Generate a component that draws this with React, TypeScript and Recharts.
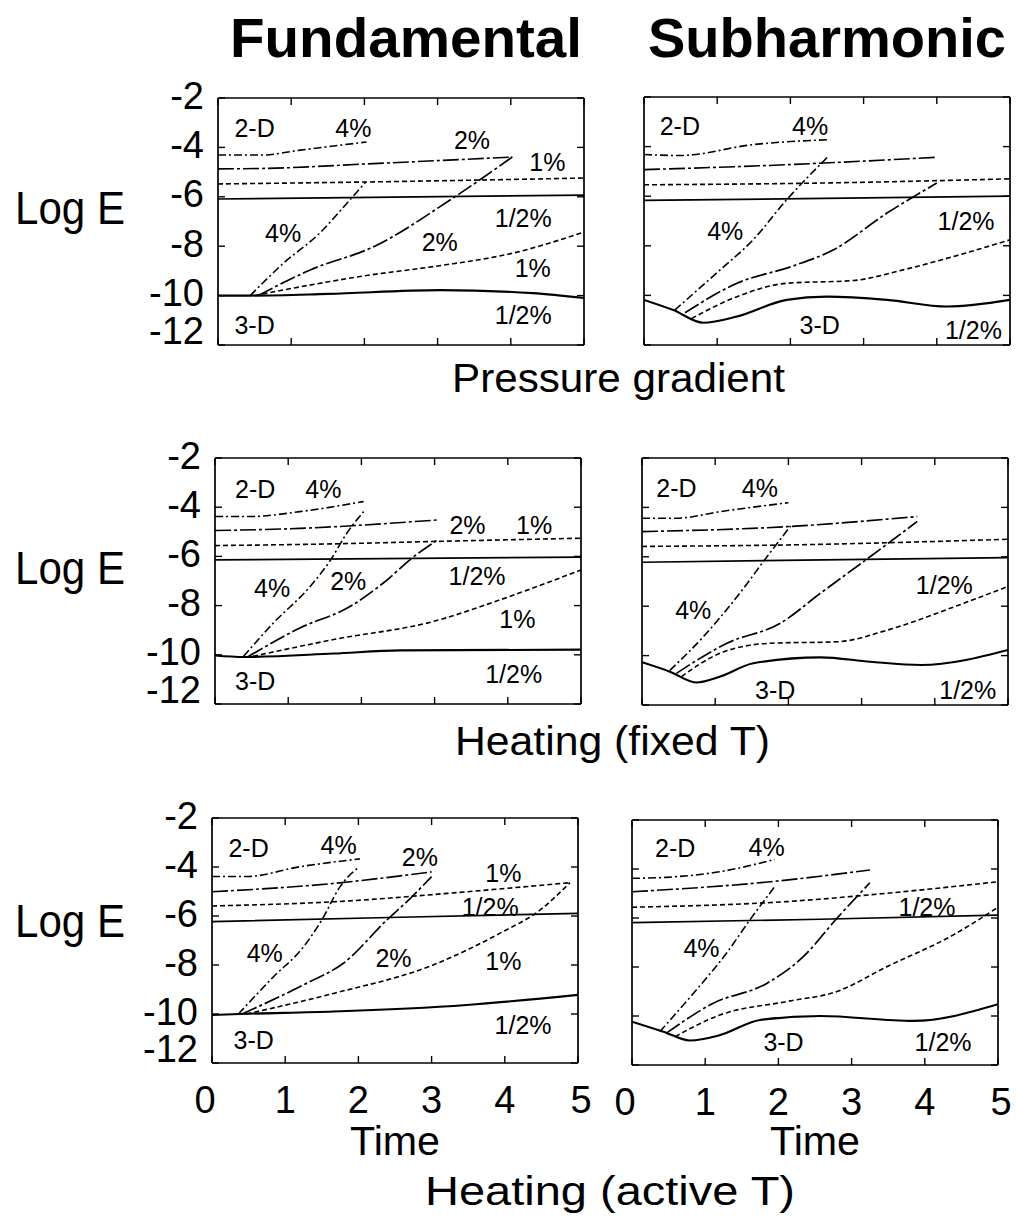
import React from 'react';
import { LineChart, Line, XAxis, YAxis, ReferenceDot } from 'recharts';

type Pair = [number, number];

// ---- Pressure gradient, fundamental ----
const pgF2d4: Pair[] = [[0, -4.31], [0.6, -4.31], [1.1, -4.12], [2.03, -3.78]];
const pgF2d2: Pair[] = [[0, -4.87], [0.66, -4.85], [2.03, -4.67], [4.02, -4.39]];
const pgF2d1: Pair[] = [[0, -5.48], [2.03, -5.4], [5, -5.24]];
const pgF2dH: Pair[] = [[0, -6.09], [5, -5.93]];
const pgF3dH: Pair[] = [[0, -10], [0.43, -10], [1.5, -9.93], [3.03, -9.78], [4.3, -9.9], [5, -10.1]];
const pgF3d1: Pair[] = [[0.5, -10], [1.3, -9.55], [2.0, -9.2], [3.0, -8.8], [4.0, -8.3], [5, -7.43]];
const pgF3d2: Pair[] = [[0.55, -10], [1.26, -8.96], [2.12, -8.03], [3.17, -6.13], [4.02, -4.39]];
const pgF3d4: Pair[] = [[0.44, -10], [0.89, -8.7], [1.39, -7.47], [1.8, -6.13], [2.02, -5.4]];

// ---- Pressure gradient, subharmonic ----
const pgS2d4: Pair[] = [[0, -4.32], [0.49, -4.36], [1.49, -3.92], [2.52, -3.72]];
const pgS2d2: Pair[] = [[0, -4.93], [1.95, -4.73], [4.0, -4.43]];
const pgS2d1: Pair[] = [[0, -5.54], [2.41, -5.47], [5, -5.3]];
const pgS2dH: Pair[] = [[0, -6.17], [5, -6.0]];
const pgS3dH: Pair[] = [[0, -10.18], [0.4, -10.59], [0.81, -11.1], [1.27, -10.85], [1.95, -10.18], [2.5, -10.05], [3.32, -10.18], [4.14, -10.45], [5, -10.18]];
const pgS3d1: Pair[] = [[0.65, -10.93], [1.27, -10.05], [1.95, -9.51], [2.86, -9.4], [3.54, -8.97], [4.23, -8.43], [5, -7.76]];
const pgS3d2: Pair[] = [[0.56, -10.7], [1.27, -9.51], [2.04, -8.81], [2.59, -8.16], [3.32, -6.68], [4.0, -5.47]];
const pgS3d4: Pair[] = [[0.42, -10.59], [1.04, -8.97], [1.49, -7.76], [1.95, -6.14], [2.52, -4.39]];

// ---- Heating (fixed T), fundamental ----
const hfF2d4: Pair[] = [[0, -4.38], [0.48, -4.38], [1.16, -4.18], [2.03, -3.77]];
const hfF2d2: Pair[] = [[0, -4.95], [1.16, -4.86], [3.03, -4.52]];
const hfF2d1: Pair[] = [[0, -5.56], [1.62, -5.49], [3.03, -5.39], [5, -5.26]];
const hfF2dH: Pair[] = [[0, -6.14], [5, -6.03]];
const hfF3dH: Pair[] = [[0, -10.03], [0.39, -10.09], [1.62, -9.95], [2.53, -9.82], [5, -9.79]];
const hfF3d1: Pair[] = [[0.52, -10.06], [1.62, -9.38], [2.99, -8.64], [3.9, -7.76], [5, -6.55]];
const hfF3d2: Pair[] = [[0.46, -10.06], [1.16, -8.91], [1.85, -8.03], [2.3, -7.08], [2.72, -6.0], [3.03, -5.35]];
const hfF3d4: Pair[] = [[0.39, -10.06], [0.8, -8.7], [1.3, -7.22], [1.58, -6.14], [1.8, -5.06], [2.03, -4.18]];

// ---- Heating (fixed T), subharmonic ----
const hfS2d4: Pair[] = [[0, -4.44], [0.47, -4.44], [1.07, -4.17], [2.0, -3.81]];
const hfS2d2: Pair[] = [[0, -4.98], [1.98, -4.78], [3.76, -4.37]];
const hfS2d1: Pair[] = [[0, -5.58], [1.98, -5.52], [5, -5.29]];
const hfS2dH: Pair[] = [[0, -6.22], [5, -6.03]];
const hfS3dH: Pair[] = [[0, -10.27], [0.38, -10.65], [0.75, -11.09], [1.07, -10.85], [1.52, -10.31], [2.44, -10.07], [3.12, -10.25], [3.81, -10.38], [5, -9.77]];
const hfS3d1: Pair[] = [[0.54, -10.85], [1.07, -9.9], [1.75, -9.5], [2.67, -9.44], [3.35, -8.97], [4.26, -8.03], [5, -7.2]];
const hfS3d2: Pair[] = [[0.47, -10.72], [1.16, -9.5], [1.89, -8.69], [2.44, -7.47], [3.12, -5.99], [3.76, -4.57]];
const hfS3d4: Pair[] = [[0.38, -10.6], [0.84, -9.23], [1.3, -7.61], [1.71, -5.99], [2.03, -4.75]];

// ---- Heating (active T), fundamental ----
const haF2d4: Pair[] = [[0, -4.39], [0.47, -4.39], [1.2, -3.99], [2.02, -3.67]];
const haF2d2: Pair[] = [[0, -5.01], [1.66, -4.67], [3.0, -4.2]];
const haF2d1: Pair[] = [[0, -5.59], [1.66, -5.42], [3.48, -5.01], [4.89, -4.64]];
const haF2dH: Pair[] = [[0, -6.23], [2.57, -6.05], [5, -5.89]];
const haF3dH: Pair[] = [[0, -10.04], [0.38, -10.0], [1.66, -9.9], [3.48, -9.63], [5, -9.22]];
const haF3d1: Pair[] = [[0.47, -10.0], [1.66, -9.16], [3.02, -8.0], [3.93, -6.71], [4.48, -5.76], [4.89, -4.64]];
const haF3d2: Pair[] = [[0.41, -10.0], [1.29, -8.75], [1.79, -7.94], [2.39, -6.16], [2.71, -5.28], [3.0, -4.39]];
const haF3d4: Pair[] = [[0.36, -10.0], [0.84, -8.48], [1.25, -7.26], [1.5, -6.16], [1.75, -4.8], [2.01, -3.99]];

// ---- Heating (active T), subharmonic ----
const haS2d4: Pair[] = [[0, -4.38], [0.47, -4.34], [1.2, -4.11], [1.95, -3.61]];
const haS2d2: Pair[] = [[0, -4.93], [1.89, -4.52], [3.25, -4.04]];
const haS2d1: Pair[] = [[0, -5.56], [2.11, -5.33], [3.48, -4.99], [5, -4.52]];
const haS2dH: Pair[] = [[0, -6.19], [2.57, -6.05], [5, -5.88]];
const haS3dH: Pair[] = [[0, -10.23], [0.43, -10.64], [0.79, -11.0], [1.2, -10.78], [1.75, -10.16], [2.57, -10.0], [3.84, -10.2], [5, -9.52]];
const haS3d1: Pair[] = [[0.59, -10.84], [1.2, -9.96], [2.11, -9.41], [2.8, -9.0], [3.48, -7.99], [4.39, -6.69], [5, -5.56]];
const haS3d2: Pair[] = [[0.47, -10.7], [1.11, -9.48], [1.84, -8.67], [2.34, -7.58], [2.8, -6.01], [3.25, -4.56]];
const haS3d4: Pair[] = [[0.38, -10.64], [0.84, -9.07], [1.29, -7.44], [1.61, -6.08], [1.95, -4.72]];

// curve labels inside each panel: [t, logE, text]
type Tag = [number, number, string];
const pgFTags: Tag[] = [[0.5, -3.2, '2-D'], [1.85, -3.2, '4%'], [3.47, -3.7, '2%'], [4.5, -4.6, '1%'], [0.89, -7.47, '4%'], [3.03, -7.83, '2%'], [4.17, -6.86, '1/2%'], [4.3, -8.9, '1%'], [4.17, -10.8, '1/2%'], [0.5, -11.2, '3-D']];
const pgSTags: Tag[] = [[0.49, -3.18, '2-D'], [2.27, -3.18, '4%'], [1.11, -7.42, '4%'], [4.4, -6.99, '1/2%'], [2.4, -11.19, '3-D'], [4.5, -11.39, '1/2%']];
const hfFTags: Tag[] = [[0.55, -3.27, '2-D'], [1.48, -3.27, '4%'], [3.45, -4.72, '2%'], [4.36, -4.72, '1%'], [0.78, -7.29, '4%'], [1.82, -7.02, '2%'], [3.58, -6.82, '1/2%'], [4.13, -8.57, '1%'], [4.08, -10.8, '1/2%'], [0.55, -11.07, '3-D']];
const hfSTags: Tag[] = [[0.47, -3.23, '2-D'], [1.61, -3.23, '4%'], [0.7, -8.17, '4%'], [4.13, -7.15, '1/2%'], [1.82, -11.4, '3-D'], [4.45, -11.4, '1/2%']];
const haFTags: Tag[] = [[0.5, -3.24, '2-D'], [1.73, -3.1, '4%'], [2.84, -3.58, '2%'], [3.98, -4.26, '1%'], [3.8, -5.65, '1/2%'], [0.72, -7.52, '4%'], [2.48, -7.73, '2%'], [3.98, -7.86, '1%'], [4.25, -10.45, '1/2%'], [0.57, -11.06, '3-D']];
const haSTags: Tag[] = [[0.59, -3.16, '2-D'], [1.84, -3.09, '4%'], [0.95, -7.24, '4%'], [4.03, -5.56, '1/2%'], [2.07, -11.05, '3-D'], [4.25, -11.05, '1/2%']];

const timeTicks = [0, 1, 2, 3, 4, 5];
const logTicks = [-2, -4, -6, -8, -10, -12];

const FONT = '"Liberation Sans", Arial, Helvetica, sans-serif';

// dash style per amplitude: 4%, 2%, 1%, 1/2%
const DASH = { d4: '8 3 2 3', d2: '16 3 3 3', d1: '5 3', h: undefined };

const toPts = (arr: Pair[]) => arr.map(([t, v]) => ({ t, v }));

const buildSeries = (s2d4: Pair[], s2d2: Pair[], s2d1: Pair[], s2dH: Pair[], s3dH: Pair[], s3d1: Pair[], s3d2: Pair[], s3d4: Pair[]) => [
  { id: '2d4', data: toPts(s2d4), dash: DASH.d4, w: 1.6 },
  { id: '2d2', data: toPts(s2d2), dash: DASH.d2, w: 1.6 },
  { id: '2d1', data: toPts(s2d1), dash: DASH.d1, w: 1.6 },
  { id: '2dH', data: toPts(s2dH), dash: DASH.h, w: 1.7 },
  { id: '3dH', data: toPts(s3dH), dash: DASH.h, w: 2.1 },
  { id: '3d1', data: toPts(s3d1), dash: DASH.d1, w: 1.6 },
  { id: '3d2', data: toPts(s3d2), dash: DASH.d2, w: 1.7 },
  { id: '3d4', data: toPts(s3d4), dash: DASH.d4, w: 1.6 },
];

const LEFT = 80;
const RIGHT = 30;
const TOP = 30;
const BOTTOM = 70;
const PLOT_W = 366;
const TICK = 7;
const axisStyle = { stroke: '#000', strokeWidth: 1.7 };

const BottomTick = (props: any) => {
  const { x, y, payload, show } = props;
  const shift = payload.value === 0 ? -7 : payload.value === 5 ? 3 : 0;
  return (
    <g>
      <line x1={x} y1={y} x2={x} y2={y - TICK} stroke="#000" strokeWidth={1.4} />
      {show && (
        <text x={x + shift} y={y + 50} textAnchor="middle" fontSize={38} fontFamily={FONT} fill="#000">
          {payload.value}
        </text>
      )}
    </g>
  );
};

const TopTick = (props: any) => {
  const { x, y } = props;
  return <line x1={x} y1={y} x2={x} y2={y + TICK} stroke="#000" strokeWidth={1.4} />;
};

const LeftTick = (props: any) => {
  const { x, y, payload, show } = props;
  const dy = payload.value === -12 ? -15 : -3;
  return (
    <g>
      <line x1={x} y1={y} x2={x + TICK} y2={y} stroke="#000" strokeWidth={1.4} />
      {show && (
        <text x={x - 14} y={y + dy + 13.5} textAnchor="end" fontSize={38} fontFamily={FONT} fill="#000">
          {payload.value}
        </text>
      )}
    </g>
  );
};

const RightTick = (props: any) => {
  const { x, y } = props;
  return <line x1={x} y1={y} x2={x - TICK} y2={y} stroke="#000" strokeWidth={1.4} />;
};

type PanelProps = {
  left: number;
  top: number;
  h: number;
  series: ReturnType<typeof buildSeries>;
  tags: Tag[];
  showX: boolean;
  showY: boolean;
};

const Panel = ({ left, top, h, series, tags, showX, showY }: PanelProps) => (
  <div style={{ position: 'absolute', left: left - LEFT, top: top - TOP }}>
    <LineChart width={LEFT + PLOT_W + RIGHT} height={TOP + h + BOTTOM} margin={{ top: 0, right: 0, bottom: 0, left: 0 }}>
      <XAxis xAxisId="b" dataKey="t" type="number" domain={[0, 5]} ticks={timeTicks} interval={0} height={BOTTOM}
        allowDataOverflow tickSize={0} tickMargin={0} tickLine={false} axisLine={axisStyle}
        tick={(p: any) => <BottomTick {...p} show={showX} />} />
      <XAxis xAxisId="t" orientation="top" dataKey="t" type="number" domain={[0, 5]} ticks={timeTicks} interval={0} height={TOP}
        allowDataOverflow tickSize={0} tickMargin={0} tickLine={false} axisLine={axisStyle}
        tick={(p: any) => <TopTick {...p} />} />
      <YAxis yAxisId="l" dataKey="v" type="number" domain={[-12, -2]} ticks={logTicks} interval={0} width={LEFT}
        allowDataOverflow tickSize={0} tickMargin={0} tickLine={false} axisLine={axisStyle}
        tick={(p: any) => <LeftTick {...p} show={showY} />} />
      <YAxis yAxisId="r" orientation="right" dataKey="v" type="number" domain={[-12, -2]} ticks={logTicks} interval={0} width={RIGHT}
        allowDataOverflow tickSize={0} tickMargin={0} tickLine={false} axisLine={axisStyle}
        tick={(p: any) => <RightTick {...p} />} />
      {series.map((s) => (
        <Line key={s.id} xAxisId="b" yAxisId="l" data={s.data} dataKey="v" type="monotone" stroke="#000"
          strokeWidth={s.w} strokeDasharray={s.dash} dot={false} activeDot={false} isAnimationActive={false} />
      ))}
      {tags.map(([t, v, text], i) => (
        <ReferenceDot key={i} xAxisId="b" yAxisId="l" x={t} y={v} r={0} fill="none" stroke="none"
          label={{ value: text, position: 'center', fontSize: 25, fill: '#000', fontFamily: FONT }} />
      ))}
    </LineChart>
  </div>
);

const pgF = buildSeries(pgF2d4, pgF2d2, pgF2d1, pgF2dH, pgF3dH, pgF3d1, pgF3d2, pgF3d4);
const pgS = buildSeries(pgS2d4, pgS2d2, pgS2d1, pgS2dH, pgS3dH, pgS3d1, pgS3d2, pgS3d4);
const hfF = buildSeries(hfF2d4, hfF2d2, hfF2d1, hfF2dH, hfF3dH, hfF3d1, hfF3d2, hfF3d4);
const hfS = buildSeries(hfS2d4, hfS2d2, hfS2d1, hfS2dH, hfS3dH, hfS3d1, hfS3d2, hfS3d4);
const haF = buildSeries(haF2d4, haF2d2, haF2d1, haF2dH, haF3dH, haF3d1, haF3d2, haF3d4);
const haS = buildSeries(haS2d4, haS2d2, haS2d1, haS2dH, haS3dH, haS3d1, haS3d2, haS3d4);

export default function App() {
  return (
    <div style={{ position: 'absolute', left: 0, top: 0, width: 1016, height: 1221, background: '#fff', fontFamily: FONT }}>
      <svg width={1016} height={1221} style={{ position: 'absolute', left: 0, top: 0 }} fontFamily={FONT} fill="#000">
        <text x={230} y={57} fontSize={55} fontWeight="bold" textLength={352} lengthAdjust="spacingAndGlyphs">Fundamental</text>
        <text x={648} y={57} fontSize={55} fontWeight="bold" textLength={358} lengthAdjust="spacingAndGlyphs">Subharmonic</text>
        <text x={15} y={224} fontSize={46} textLength={110} lengthAdjust="spacingAndGlyphs">Log E</text>
        <text x={15} y={584} fontSize={46} textLength={110} lengthAdjust="spacingAndGlyphs">Log E</text>
        <text x={15} y={937} fontSize={46} textLength={110} lengthAdjust="spacingAndGlyphs">Log E</text>
        <text x={452} y={392} fontSize={40} textLength={333} lengthAdjust="spacingAndGlyphs">Pressure gradient</text>
        <text x={455} y={755} fontSize={40} textLength={315} lengthAdjust="spacingAndGlyphs">Heating (fixed T)</text>
        <text x={350} y={1155} fontSize={40} textLength={90} lengthAdjust="spacingAndGlyphs">Time</text>
        <text x={770} y={1155} fontSize={40} textLength={90} lengthAdjust="spacingAndGlyphs">Time</text>
        <text x={425} y={1205} fontSize={40} textLength={370} lengthAdjust="spacingAndGlyphs">Heating (active T)</text>
      </svg>
      <Panel left={218} top={98} h={247} series={pgF} tags={pgFTags} showX={false} showY />
      <Panel left={644} top={97} h={248} series={pgS} tags={pgSTags} showX={false} showY={false} />
      <Panel left={215} top={458} h={246} series={hfF} tags={hfFTags} showX={false} showY />
      <Panel left={642} top={458} h={247} series={hfS} tags={hfSTags} showX={false} showY={false} />
      <Panel left={212} top={818} h={245} series={haF} tags={haFTags} showX showY />
      <Panel left={632} top={820} h={245} series={haS} tags={haSTags} showX showY={false} />
    </div>
  );
}
